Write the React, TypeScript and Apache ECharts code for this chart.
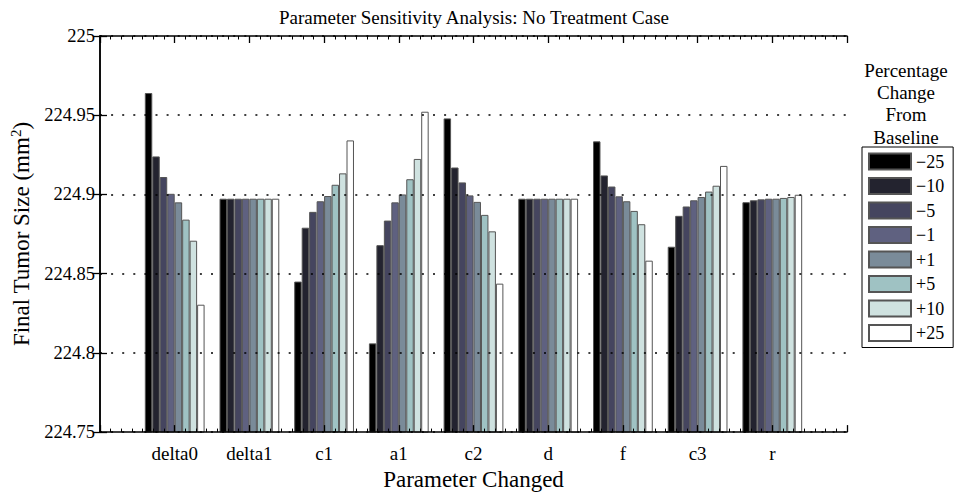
import React, { useEffect, useRef } from "react";
import * as echarts from "echarts";

const FONT = "'Liberation Serif', 'Times New Roman', serif";

const categories = ["delta0", "delta1", "c1", "a1", "c2", "d", "f", "c3", "r"];
const pctLabels = ["−25", "−10", "−5", "−1", "+1", "+5", "+10", "+25"];
const barColors = ["#000000", "#23232f", "#45455f", "#5f6180", "#7a8b99", "#9fc2c3", "#cfe2e0", "#ffffff"];

const minus25 = [224.964, 224.8973, 224.845, 224.806, 224.948, 224.8973, 224.9335, 224.867, 224.8951];
const minus10 = [224.924, 224.8973, 224.879, 224.868, 224.917, 224.8973, 224.912, 224.8865, 224.8963];
const minus5 = [224.911, 224.8973, 224.889, 224.8835, 224.9076, 224.8973, 224.905, 224.8924, 224.8969];
const minus1 = [224.9004, 224.8973, 224.8957, 224.895, 224.8994, 224.8973, 224.8988, 224.8963, 224.8973];
const plus1 = [224.895, 224.8973, 224.899, 224.9, 224.8953, 224.8973, 224.8957, 224.8984, 224.8973];
const plus5 = [224.8841, 224.8973, 224.9061, 224.9096, 224.8871, 224.8973, 224.8896, 224.9018, 224.8978];
const plus10 = [224.8708, 224.8973, 224.9133, 224.9224, 224.8767, 224.8973, 224.8812, 224.9055, 224.8984];
const plus25 = [224.8304, 224.8973, 224.9341, 224.9522, 224.8437, 224.8973, 224.8582, 224.918, 224.8998];

const seriesValues = [minus25, minus10, minus5, minus1, plus1, plus5, plus10, plus25];

const yTicks = { min: 224.75, max: 225, interval: 0.05 };

export default function App() {
  const ref = useRef<HTMLDivElement>(null);
  useEffect(() => {
    if (!ref.current) return;
    const chart = echarts.init(ref.current, null, { renderer: "svg" });
    const axisLineStyle = { color: "#000", width: 1.5 };
    const tickAxis = (position: string, showLine: boolean) => ({
      type: "value",
      position,
      min: 0,
      max: 10,
      interval: 1,
      axisLine: { show: showLine, lineStyle: axisLineStyle },
      axisTick: { show: true, inside: true, length: 7, lineStyle: { color: "#000", width: 1.3 } },
      minorTick: { show: true, splitNumber: 7, length: 3.5, lineStyle: { color: "#000", width: 1 } },
      axisLabel: { show: false },
      splitLine: { show: false },
      z: 10,
    });
    const option: any = {
      animation: false,
      backgroundColor: "#fff",
      grid: { left: 100, right: 107, top: 36, bottom: 52 },
      legend: {
        orient: "vertical",
        left: 862,
        top: 147,
        itemWidth: 42,
        itemHeight: 16,
        itemGap: 6.5,
        padding: [5.5, 9, 5.5, 6],
        borderColor: "#000",
        borderWidth: 1,
        backgroundColor: "#fff",
        icon: "rect",
        textStyle: { fontSize: 18, color: "#000", fontFamily: FONT, lineHeight: 16 },
        data: pctLabels,
      },
      graphic: [
        {
          type: "text",
          x: 474,
          y: 17,
          style: {
            text: "Parameter Sensitivity Analysis: No Treatment Case",
            fontSize: 19,
            fontFamily: FONT,
            fill: "#000",
            textAlign: "center",
            textVerticalAlign: "middle",
          },
        },
        {
          type: "text",
          x: 906,
          y: 59,
          style: {
            text: "Percentage\nChange\nFrom\nBaseline",
            fontSize: 19,
            lineHeight: 22.3,
            fontFamily: FONT,
            fill: "#000",
            textAlign: "center",
            textVerticalAlign: "top",
          },
        },
      ],
      xAxis: [
        {
          type: "category",
          position: "bottom",
          data: ["", ...categories, ""],
          boundaryGap: false,
          axisLine: { show: true, lineStyle: axisLineStyle },
          axisTick: { show: false },
          axisLabel: { fontSize: 19, color: "#000", fontFamily: FONT, margin: 12, interval: 0 },
          name: "Parameter Changed",
          nameLocation: "middle",
          nameGap: 25,
          nameTextStyle: { fontSize: 23, color: "#000", fontFamily: FONT },
          z: 10,
        },
        tickAxis("bottom", false),
        tickAxis("top", true),
      ],
      yAxis: [
        {
          type: "value",
          position: "left",
          min: yTicks.min,
          max: yTicks.max,
          interval: yTicks.interval,
          axisLine: { show: true, lineStyle: axisLineStyle },
          axisTick: { show: true, inside: true, length: 7, lineStyle: { color: "#000", width: 1.3 } },
          axisLabel: { fontSize: 18.5, color: "#000", fontFamily: FONT, margin: 5 },
          splitLine: { show: true, lineStyle: { type: [2, 9.1], color: "#000", width: 1.6 } },
          name: "{a|Final Tumor Size (mm}{b|2}{a|)}",
          nameLocation: "middle",
          nameRotate: 90,
          nameGap: 64,
          nameTextStyle: {
            rich: {
              a: { fontSize: 23, color: "#000", fontFamily: FONT, lineHeight: 26 },
              b: { fontSize: 15, color: "#000", fontFamily: FONT, verticalAlign: "top", lineHeight: 26 },
            },
          },
          z: 10,
        },
        {
          type: "value",
          position: "right",
          min: yTicks.min,
          max: yTicks.max,
          interval: yTicks.interval,
          axisLine: { show: true, lineStyle: axisLineStyle },
          axisTick: { show: true, inside: true, length: 7, lineStyle: { color: "#000", width: 1.3 } },
          axisLabel: { show: false },
          splitLine: { show: false },
          z: 10,
        },
      ],
      series: seriesValues.map((vals, i) => ({
        type: "bar",
        name: pctLabels[i],
        xAxisIndex: 0,
        yAxisIndex: 0,
        barGap: "0%",
        barCategoryGap: "20%",
        clip: true,
        itemStyle: { color: barColors[i], borderColor: "#555", borderWidth: 1 },
        data: [null, ...vals, null],
      })),
    };
    chart.setOption(option);
    return () => chart.dispose();
  }, []);
  return (
    <div
      ref={ref}
      style={{ position: "fixed", left: 0, top: 0, width: 954, height: 496, background: "#fff" }}
    />
  );
}
